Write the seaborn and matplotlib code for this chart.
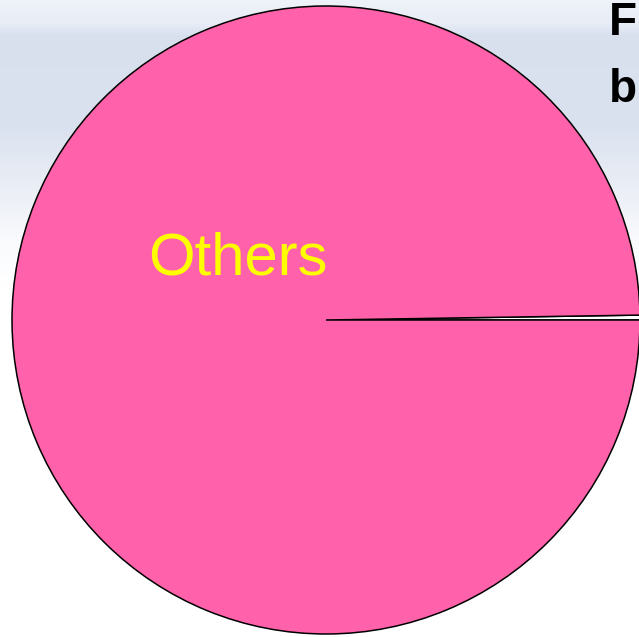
import numpy as np
import matplotlib
matplotlib.use("Agg")
import matplotlib.pyplot as plt
import seaborn as sns
from matplotlib.colors import LinearSegmentedColormap

# data
slice_labels = ["", "Others"]
slice_values = [0.25, 99.75]
slice_colors = ["#FFFFFF", "#FF62AA"]
title_lines = ["F", "b"]

sns.set_theme(style="white")
plt.rcParams['font.family'] = ['Liberation Sans', 'DejaVu Sans']

fig = plt.figure(figsize=(6.39, 6.37), dpi=100)

# background gradient
bg = fig.add_axes([0, 0, 1, 1])
bg_cmap = LinearSegmentedColormap.from_list(
    "bg", [(0.0, "#eef2f9"), (0.035, "#e8edf6"), (0.055, "#d8e0ee"),
           (0.2, "#dbe2ef"), (0.3, "#ebeff6"), (0.38, "#fafbfd"), (0.45, "#ffffff"),
           (1.0, "#ffffff")])
grad = np.linspace(0, 1, 256).reshape(-1, 1)
bg.imshow(grad, aspect="auto", cmap=bg_cmap, extent=[0, 1, 1, 0])
bg.set_axis_off()

ax = fig.add_axes([12 / 639, 3 / 637, 628 / 639, 628 / 637])
ax.pie(slice_values, colors=slice_colors, startangle=0, counterclock=True,
       radius=1.0, wedgeprops=dict(edgecolor="black", linewidth=1.1))
ax.set_xlim(-1, 1)
ax.set_ylim(-1, 1)
ax.set_aspect("equal")
ax.set_axis_off()

ax.text(-0.28, 0.195, slice_labels[1], color="#FFFF00", fontsize=43,
        ha="center", va="center")

fig.text(609 / 639, 1 - 35 / 637, title_lines[0], fontsize=33, fontweight="bold",
         ha="left", va="baseline", color="black")
fig.text(609 / 639, 1 - 102 / 637, title_lines[1], fontsize=33, fontweight="bold",
         ha="left", va="baseline", color="black")

fig.savefig("out.png", dpi=100)
